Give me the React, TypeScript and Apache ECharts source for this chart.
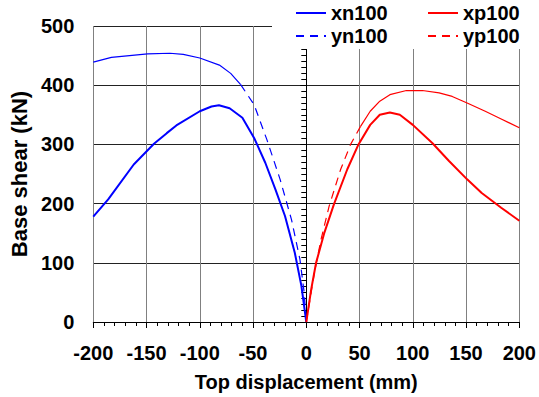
import React, { useEffect, useRef } from "react";
import * as echarts from "echarts";

// [top displacement (mm), base shear (kN)]
const xn100: number[][] = [
  [-200, 178], [-186, 207], [-162, 266], [-143, 301], [-131, 319], [-122, 332],
  [-100, 356], [-89, 364], [-82, 366], [-72, 361], [-60, 345], [-49, 311],
  [-38.5, 269], [-29, 224], [-20, 179], [-10.8, 117], [-4.6, 61], [0, 0],
];
const yn100: number[][] = [
  [-200, 439], [-183, 447], [-149, 453], [-128, 454], [-115.5, 452], [-100, 446],
  [-81.6, 434], [-71, 420], [-61.6, 401], [-49, 367], [-37, 308], [-24.6, 241],
  [-13.9, 173], [-6, 106], [-2, 50], [0, 0],
];
const xp100: number[][] = [
  [0, 0], [4.6, 55], [9.2, 100], [17, 151], [26, 199], [38.5, 258], [49, 300],
  [60, 333], [69, 350], [78.5, 354], [87.8, 350], [100, 333], [118.5, 302],
  [134, 272], [151, 241], [164.7, 218], [183, 193], [200, 171],
];
const yp100: number[][] = [
  [0, 0], [7.7, 84], [13.9, 140], [21.5, 196], [32.3, 258], [41.6, 300],
  [50.8, 330], [60, 356], [69, 373], [78.5, 384], [94, 391], [109, 391],
  [124.7, 387], [137, 381], [151, 370], [168, 356], [183, 343], [200, 328],
];
const xTicks = [-200, -150, -100, -50, 0, 50, 100, 150, 200];
const yTicks = [0, 100, 200, 300, 400, 500];

// where the dashed curves appear solid in the picture (dense points)
const ynDashFrom = -61.6;
const ypDashTo = 50.8;

const FONT = "'Liberation Sans', Arial, sans-serif";
const BLUE = "#0000FF";
const RED = "#FF0000";

export default function App() {
  const ref = useRef<HTMLDivElement>(null);
  useEffect(() => {
    if (!ref.current) return;
    const chart = echarts.init(ref.current, null, { renderer: "svg" });
    const lbl = { fontFamily: FONT, fontWeight: "bold" as const, fontSize: 20, color: "#000" };
    const legendCommon = {
      orient: "vertical", top: 3, padding: 0, itemGap: 3,
      itemWidth: 30, itemHeight: 20, textStyle: lbl, z: 101,
      itemStyle: { opacity: 0 },
    };
    chart.setOption({
      animation: false,
      backgroundColor: "#fff",
      textStyle: { fontFamily: FONT },
      grid: { left: 88, right: 18, top: 26, bottom: 74, containLabel: false },
      legend: [
        { ...legendCommon, left: 295, data: ["xn100", "yn100"] },
        { ...legendCommon, left: 427, data: ["xp100", "yp100"] },
      ],
      graphic: [
        { type: "rect", z: 100, shape: { x: 272, y: 0, width: 267, height: 49 }, style: { fill: "#fff" } },
      ],
      xAxis: {
        type: "value", min: xTicks[0], max: xTicks[xTicks.length - 1], interval: 50,
        name: "Top displacement (mm)", nameLocation: "middle", nameGap: 50,
        nameTextStyle: { ...lbl },
        axisLine: { onZero: false, lineStyle: { color: "#000", width: 1 } },
        axisTick: { show: true, length: 6, lineStyle: { color: "#000" } },
        minorTick: { show: true, splitNumber: 5, length: 4, lineStyle: { color: "#000" } },
        splitLine: { show: true, lineStyle: { color: "#808080", width: 1 } },
        axisLabel: { ...lbl, margin: 21 },
      },
      yAxis: [
        {
          type: "value", min: yTicks[0], max: yTicks[yTicks.length - 1], interval: 100,
          position: "left",
          name: "Base shear (kN)", nameLocation: "middle", nameGap: 52, nameRotate: 90,
          nameTextStyle: { ...lbl, fontSize: 22 },
          axisLine: { show: false, onZero: false },
          axisTick: { show: false },
          splitLine: { show: true, lineStyle: { color: "#222", width: 1 } },
          axisLabel: { ...lbl, margin: 19 },
        },
        {
          type: "value", min: yTicks[0], max: yTicks[yTicks.length - 1], interval: 100,
          position: "right",
          axisLine: { show: true, onZero: true, lineStyle: { color: "#000", width: 1 } },
          axisTick: { show: true, inside: true, length: 6, lineStyle: { color: "#000" } },
          minorTick: { show: true, splitNumber: 10, length: 5, lineStyle: { color: "#000" } },
          splitLine: { show: false },
          axisLabel: { show: false },
        },
      ],
      series: [
        {
          name: "xn100", type: "line", data: xn100, showSymbol: false, symbol: "none",
          lineStyle: { color: BLUE, width: 2 }, itemStyle: { color: BLUE }, z: 5,
        },
        {
          name: "yn100", type: "line", data: yn100.filter((p) => p[0] >= ynDashFrom),
          showSymbol: false, symbol: "none",
          lineStyle: { color: BLUE, width: 1.2, type: [8, 6] }, itemStyle: { color: BLUE }, z: 5,
        },
        {
          name: "yn100", type: "line", data: yn100.filter((p) => p[0] <= ynDashFrom),
          showSymbol: false, symbol: "none",
          lineStyle: { color: BLUE, width: 1.2 }, itemStyle: { color: BLUE }, z: 5,
        },
        {
          name: "xp100", type: "line", data: xp100, showSymbol: false, symbol: "none",
          lineStyle: { color: RED, width: 2 }, itemStyle: { color: RED }, z: 5,
        },
        {
          name: "yp100", type: "line", data: yp100.filter((p) => p[0] <= ypDashTo),
          showSymbol: false, symbol: "none",
          lineStyle: { color: RED, width: 1.2, type: [8, 6] }, itemStyle: { color: RED }, z: 5,
        },
        {
          name: "yp100", type: "line", data: yp100.filter((p) => p[0] >= ypDashTo),
          showSymbol: false, symbol: "none",
          lineStyle: { color: RED, width: 1.2 }, itemStyle: { color: RED }, z: 5,
        },
      ],
    });
    return () => chart.dispose();
  }, []);
  return <div ref={ref} style={{ width: 539, height: 397, position: "absolute", left: 0, top: 0 }} />;
}
